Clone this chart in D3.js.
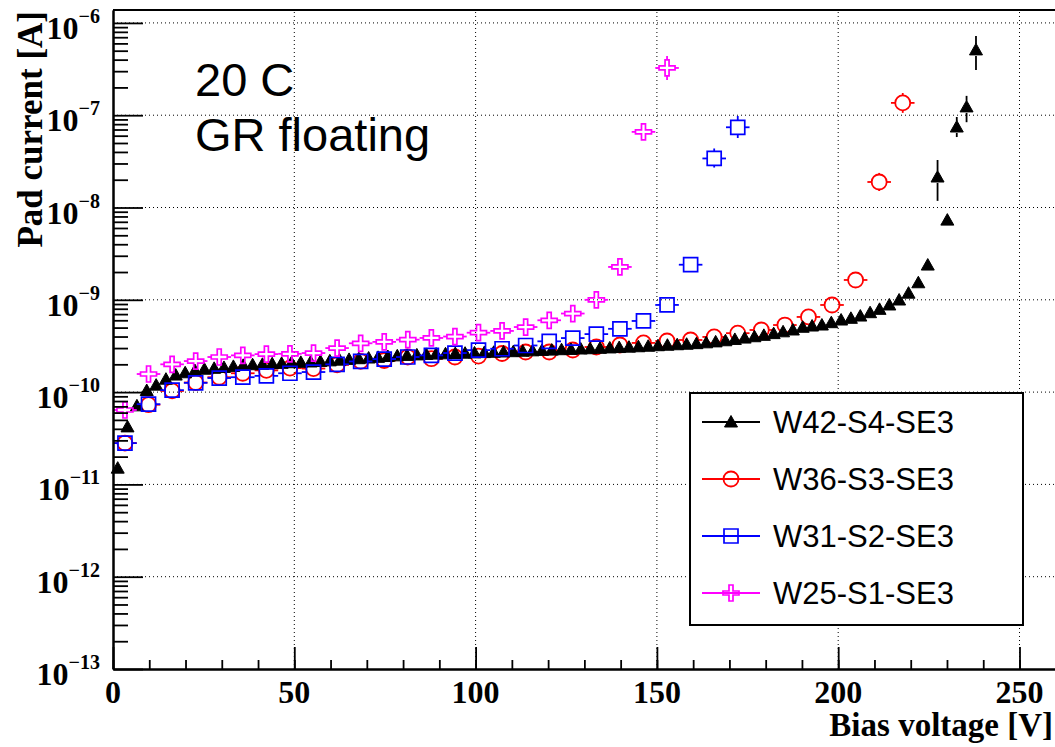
<!DOCTYPE html>
<html>
<head>
<meta charset="utf-8">
<script src="https://cdn.jsdelivr.net/npm/d3@7"></script>
<style>
  body { margin: 0; background: #fff; }
</style>
</head>
<body>
<div class="chart"></div>
<script>
// ---- data ----
const seriesNames = ["W42-S4-SE3", "W36-S3-SE3", "W31-S2-SE3", "W25-S1-SE3"]

// W42 was measured in finer steps
const voltsW42 = [
  1.3, 4.0, 6.6, 9.3, 11.9, 14.6, 17.3, 19.9, 22.6, 25.2,
  27.9, 30.6, 33.2, 35.9, 38.5, 41.2, 43.9, 46.5, 49.2, 51.8,
  54.5, 57.2, 59.8, 62.5, 65.1, 67.8, 70.5, 73.1, 75.8, 78.4,
  81.1, 83.8, 86.4, 89.1, 91.7, 94.4, 97.1, 99.7, 102.4, 105.0,
  107.7, 110.4, 113.0, 115.7, 118.3, 121.0, 123.7, 126.3, 129.0, 131.6,
  134.3, 137.0, 139.6, 142.3, 144.9, 147.6, 150.3, 152.9, 155.6, 158.2,
  160.9, 163.6, 166.2, 168.9, 171.5, 174.2, 176.9, 179.5, 182.2, 184.8,
  187.5, 190.2, 192.8, 195.5, 198.1, 200.8, 203.5, 206.1, 208.8, 211.4,
  214.1, 216.8, 219.4, 222.1, 224.7, 227.4, 230.1, 232.7, 235.4, 238.0
]
const currW42 = [
  1.5e-11, 4.2e-11, 7.1e-11, 1.04e-10, 1.19e-10, 1.38e-10, 1.53e-10, 1.62e-10, 1.71e-10, 1.77e-10,
  1.81e-10, 1.85e-10, 1.9e-10, 1.95e-10, 1.98e-10, 2.0e-10, 2.03e-10, 2.05e-10, 2.08e-10, 2.1e-10,
  2.12e-10, 2.15e-10, 2.18e-10, 2.22e-10, 2.26e-10, 2.3e-10, 2.34e-10, 2.38e-10, 2.43e-10, 2.47e-10,
  2.5e-10, 2.53e-10, 2.56e-10, 2.58e-10, 2.6e-10, 2.62e-10, 2.64e-10, 2.66e-10, 2.68e-10, 2.7e-10,
  2.72e-10, 2.74e-10, 2.77e-10, 2.8e-10, 2.83e-10, 2.85e-10, 2.88e-10, 2.9e-10, 2.93e-10, 2.95e-10,
  2.98e-10, 3.01e-10, 3.04e-10, 3.07e-10, 3.1e-10, 3.14e-10, 3.18e-10, 3.22e-10, 3.26e-10, 3.3e-10,
  3.35e-10, 3.42e-10, 3.5e-10, 3.6e-10, 3.72e-10, 3.85e-10, 3.98e-10, 4.12e-10, 4.3e-10, 4.5e-10,
  4.71e-10, 5.04e-10, 5.2e-10, 5.33e-10, 5.65e-10, 6.04e-10, 6.3e-10, 6.67e-10, 7.25e-10, 7.88e-10,
  8.79e-10, 9.95e-10, 1.18e-9, 1.53e-9, 2.38e-9, 2.14e-8, 7.3e-9, 7.45e-8, 1.23e-7, 5.1e-7
]

// the other three share the coarse voltage steps
const voltsCoarse = [
  3.3, 9.8, 16.3, 22.8, 29.3, 35.8, 42.3, 48.8, 55.3, 61.8,
  68.3, 74.8, 81.3, 87.8, 94.3, 100.8, 107.3, 113.8, 120.3, 126.8,
  133.3, 139.8, 146.3, 152.8, 159.3, 165.8, 172.3, 178.8, 185.3, 191.8,
  198.3, 204.8, 211.3, 217.8
]
const voltErrHalf = 3.25

const currW36 = [
  2.8e-11, 7.3e-11, 1.03e-10, 1.27e-10, 1.45e-10, 1.6e-10, 1.72e-10, 1.82e-10, 1.8e-10, 1.97e-10,
  2.15e-10, 2.2e-10, 2.4e-10, 2.3e-10, 2.4e-10, 2.45e-10, 2.62e-10, 2.72e-10, 2.72e-10, 2.86e-10,
  3.08e-10, 3.24e-10, 3.41e-10, 3.58e-10, 3.67e-10, 3.96e-10, 4.35e-10, 4.71e-10, 5.33e-10, 6.52e-10,
  8.79e-10, 1.64e-9, 1.89e-8, 1.36e-7
]
const currW31 = [
  2.8e-11, 7.4e-11, 1.05e-10, 1.26e-10, 1.42e-10, 1.45e-10, 1.5e-10, 1.6e-10, 1.65e-10, 2.0e-10,
  2.15e-10, 2.28e-10, 2.4e-10, 2.5e-10, 2.65e-10, 2.85e-10, 2.95e-10, 3.2e-10, 3.55e-10, 3.85e-10,
  4.25e-10, 4.85e-10, 5.9e-10, 8.8e-10, 2.4e-9, 3.4e-8, 7.4e-8
]
const currW25 = [
  6.4e-11, 1.57e-10, 2.0e-10, 2.17e-10, 2.4e-10, 2.5e-10, 2.58e-10, 2.6e-10, 2.65e-10, 3.0e-10,
  3.38e-10, 3.5e-10, 3.7e-10, 3.86e-10, 4.0e-10, 4.4e-10, 4.6e-10, 5.07e-10, 6.0e-10, 7.1e-10,
  1.0e-9, 2.27e-9, 6.6e-8, 3.25e-7
]

// visible current errors: [voltage, low, high]
const errW42 = [[227.4, 1.18e-8, 3.27e-8], [232.7, 5.8e-8, 9.57e-8], [235.4, 8.4e-8, 1.62e-7], [238.0, 3.09e-7, 7.2e-7]]
const errW36 = [[211.3, 1.51e-8, 2.37e-8], [217.8, 1.06e-7, 1.74e-7]]
const errW31 = [[165.8, 2.71e-8, 4.36e-8], [172.3, 5.66e-8, 9.8e-8]]
const errW25 = [[146.3, 5.39e-8, 8.03e-8], [152.8, 2.41e-7, 4.38e-7]]

const xMajorTicks = [0, 50, 100, 150, 200, 250]
const xMinorTicks = d3.range(0, 261, 10)
const yDecades = [-13, -12, -11, -10, -9, -8, -7, -6]

// ---- layout ----
const width = 1055
const height = 747
const plot = { left: 113, right: 1056, top: 10, bottom: 669 }

const xScale = d3.scaleLinear()
  .domain([0, 260])
  .range([plot.left, plot.left + 260 * 3.626])

const yScale = d3.scaleLog()
  .domain([1e-13, 1.38e-6])
  .range([plot.bottom, plot.top])

const serif = "'Liberation Serif', 'Times New Roman', serif"
const sans = "'Liberation Sans', Arial, sans-serif"

const svg = d3.select(".chart").append("svg")
  .attr("width", width)
  .attr("height", height)

svg.append("rect")
  .attr("width", width)
  .attr("height", height)
  .attr("fill", "#fff")

// dotted grid
const grid = svg.append("g")
grid.selectAll(".vgrid")
  .data(xMajorTicks.filter(d => d > 0))
  .join("line")
    .attr("x1", d => xScale(d)).attr("x2", d => xScale(d))
    .attr("y1", plot.bottom).attr("y2", plot.top)
grid.selectAll(".hgrid")
  .data(yDecades.filter(d => d > -13))
  .join("line")
    .attr("x1", plot.left).attr("x2", plot.right)
    .attr("y1", d => yScale(Math.pow(10, d))).attr("y2", d => yScale(Math.pow(10, d)))
grid.selectAll("line")
  .attr("stroke", "#000")
  .attr("stroke-width", 1)
  .attr("stroke-dasharray", "1,3")

// ---- markers ----
const markerPaths = {
  triangle: "M-6.5,5L6.5,5L0,-6.5Z",
  square: "M-7,-7H7V7H-7Z",
  cross: "M-2,-8H2V-2H8V2H2V8H-2V2H-8V-2H-2Z"
}
const markerHalf = { triangle: 6, circle: 7.5, square: 7, cross: 8 }

const series = [
  { name: seriesNames[1], volts: voltsCoarse, curr: currW36, err: errW36, color: "#ff0000", marker: "circle", xErr: true },
  { name: seriesNames[0], volts: voltsW42, curr: currW42, err: errW42, color: "#000000", marker: "triangle", xErr: false },
  { name: seriesNames[2], volts: voltsCoarse, curr: currW31, err: errW31, color: "#0000ff", marker: "square", xErr: true },
  { name: seriesNames[3], volts: voltsCoarse, curr: currW25, err: errW25, color: "#ff00ff", marker: "cross", xErr: true }
]

const drawMarker = (g, type, color) => {
  if (type === "circle") {
    g.append("circle").attr("r", 7.5)
      .attr("fill", "none").attr("stroke", color).attr("stroke-width", 1.8)
  } else {
    g.append("path").attr("d", markerPaths[type])
      .attr("fill", type === "triangle" ? color : "none")
      .attr("stroke", color).attr("stroke-width", type === "triangle" ? 1 : 1.7)
      .attr("stroke-linejoin", "miter")
  }
}

series.forEach(s => {
  const pts = s.curr.map((c, i) => ({ v: s.volts[i], c }))
  const g = svg.append("g")
  const h = markerHalf[s.marker]

  if (s.xErr) {
    pts.forEach(p => {
      const cx = xScale(p.v), cy = yScale(p.c)
      g.append("line")
        .attr("x1", xScale(p.v - voltErrHalf)).attr("x2", cx - h)
        .attr("y1", cy).attr("y2", cy)
      g.append("line")
        .attr("x1", cx + h).attr("x2", xScale(p.v + voltErrHalf))
        .attr("y1", cy).attr("y2", cy)
    })
  }
  s.err.forEach(([v, lo, hi]) => {
    const p = pts.find(d => d.v === v)
    const cx = xScale(v), cy = yScale(p.c)
    if (yScale(hi) < cy - h) {
      g.append("line").attr("x1", cx).attr("x2", cx)
        .attr("y1", yScale(hi)).attr("y2", cy - h)
    }
    if (yScale(lo) > cy + h) {
      g.append("line").attr("x1", cx).attr("x2", cx)
        .attr("y1", cy + h).attr("y2", yScale(lo))
    }
  })
  g.selectAll("line")
    .attr("stroke", s.color)
    .attr("stroke-width", 1.8)

  pts.forEach(p => {
    const m = g.append("g")
      .attr("transform", `translate(${xScale(p.v)},${yScale(p.c)})`)
    drawMarker(m, s.marker, s.color)
  })
})

// ---- axes ----
const xAxisMajor = d3.axisBottom(xScale)
  .tickValues(xMajorTicks).tickSize(-22).tickSizeOuter(0).tickFormat("")
const xAxisMinor = d3.axisBottom(xScale)
  .tickValues(xMinorTicks).tickSize(-9).tickSizeOuter(0).tickFormat("")

const yMinor = []
yDecades.slice(0, -1).forEach(e => {
  for (let k = 2; k <= 9; k++) yMinor.push(k * Math.pow(10, e))
})
const yAxisMajor = d3.axisLeft(yScale)
  .tickValues(yDecades.map(e => Math.pow(10, e))).tickSize(-30).tickSizeOuter(0).tickFormat("")
const yAxisMinor = d3.axisLeft(yScale)
  .tickValues(yMinor).tickSize(-15).tickSizeOuter(0).tickFormat("")

const styleAxis = g => {
  g.select(".domain").attr("stroke", "#000").attr("stroke-width", 2)
  g.selectAll(".tick line").attr("stroke", "#000").attr("stroke-width", 1.8)
}

svg.append("g").attr("transform", `translate(0,${plot.bottom})`).call(xAxisMinor).call(styleAxis)
svg.append("g").attr("transform", `translate(0,${plot.bottom})`).call(xAxisMajor).call(styleAxis)
svg.append("g").attr("transform", `translate(${plot.left},0)`).call(yAxisMinor).call(styleAxis)
svg.append("g").attr("transform", `translate(${plot.left},0)`).call(yAxisMajor).call(styleAxis)

// top frame
svg.append("line")
  .attr("x1", plot.left).attr("x2", plot.right)
  .attr("y1", plot.top).attr("y2", plot.top)
  .attr("stroke", "#000").attr("stroke-width", 2)

// tick labels
svg.append("g").selectAll("text")
  .data(xMajorTicks)
  .join("text")
    .attr("x", d => xScale(d))
    .attr("y", 703)
    .attr("text-anchor", "middle")
    .style("font", `bold 32px ${serif}`)
    .text(d => d)

const yLabels = svg.append("g").selectAll("text")
  .data(yDecades)
  .join("text")
    .attr("x", 100)
    .attr("y", d => yScale(Math.pow(10, d)) + 16)
    .attr("text-anchor", "end")
    .style("font", `bold 32px ${serif}`)
yLabels.append("tspan").text("10")
yLabels.append("tspan")
  .attr("dy", -16)
  .style("font-size", "20px")
  .text(d => "\u2212" + Math.abs(d))

// axis titles
svg.append("text")
  .attr("x", 1053).attr("y", 736)
  .attr("text-anchor", "end")
  .style("font", `bold 33px ${serif}`)
  .text("Bias voltage [V]")

svg.append("text")
  .attr("transform", "translate(42,11) rotate(-90)")
  .attr("text-anchor", "end")
  .style("font", `bold 35px ${serif}`)
  .text("Pad current [A]")

// annotation
svg.append("text").attr("x", 195).attr("y", 96)
  .style("font", `47px ${sans}`).text("20 C")
svg.append("text").attr("x", 195).attr("y", 151)
  .style("font", `47px ${sans}`).text("GR floating")

// ---- legend ----
const legendOrder = [
  { name: seriesNames[0], color: "#000000", marker: "triangle" },
  { name: seriesNames[1], color: "#ff0000", marker: "circle" },
  { name: seriesNames[2], color: "#0000ff", marker: "square" },
  { name: seriesNames[3], color: "#ff00ff", marker: "cross" }
]
const legend = svg.append("g")
legend.append("rect")
  .attr("x", 690).attr("y", 393).attr("width", 333).attr("height", 232)
  .attr("fill", "#fff").attr("stroke", "#000").attr("stroke-width", 2)

const rows = legend.selectAll(".row")
  .data(legendOrder)
  .join("g")
    .attr("class", "row")
    .attr("transform", (d, i) => `translate(0,${422 + i * 57})`)
rows.append("line")
  .attr("x1", 702).attr("x2", 760)
  .attr("stroke", d => d.color).attr("stroke-width", 1.8)
rows.each(function (d) {
  const m = d3.select(this).append("g").attr("transform", "translate(731,0)")
  drawMarker(m, d.marker, d.color)
})
rows.append("text")
  .attr("x", 773).attr("y", 11)
  .style("font", `31px ${sans}`)
  .text(d => d.name)
</script>
</body>
</html>
